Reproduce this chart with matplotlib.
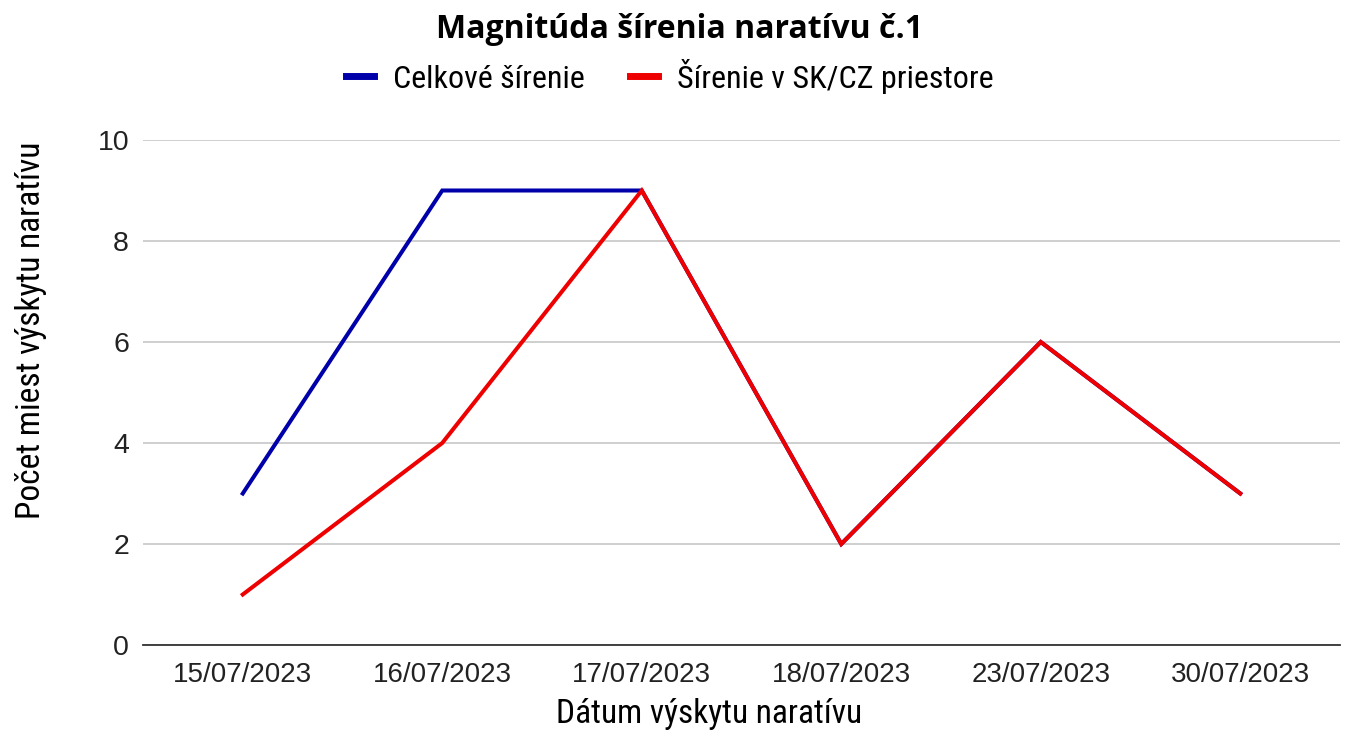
import matplotlib
matplotlib.use("Agg")
import matplotlib.pyplot as plt
from matplotlib.lines import Line2D

DATES = ["15/07/2023", "16/07/2023", "17/07/2023", "18/07/2023", "23/07/2023", "30/07/2023"]
TOTAL = [3, 9, 9, 2, 6, 3]
SKCZ = [1, 4, 9, 2, 6, 3]
SERIES_NAMES = ["Celkové šírenie", "Šírenie v SK/CZ priestore"]
Y_TICKS = [0, 2, 4, 6, 8, 10]

BLUE = "#0000AA"
RED = "#EE0000"
LABEL_FONT = ["Roboto Condensed", "Roboto", "DejaVu Sans"]
TICK_FONT = ["Liberation Sans", "DejaVu Sans"]
W, H = 1346, 731

fig = plt.figure(figsize=(W / 100, H / 100), dpi=100)
ax = fig.add_axes([143 / W, 1 - 645 / H, (1340 - 143) / W, (645 - 140) / H])

x = list(range(len(DATES)))
ax.plot(x, TOTAL, color=BLUE, lw=2.9, solid_joinstyle="miter", zorder=3)
ax.plot(x, SKCZ, color=RED, lw=2.9, solid_joinstyle="miter", zorder=4)

ax.set_xlim(-0.5, len(DATES) - 0.5)
ax.set_ylim(0, 10)
ax.set_yticks(Y_TICKS)
ax.set_yticklabels([str(v) for v in Y_TICKS], fontfamily=TICK_FONT, fontsize=20.5)
ax.set_xticks(x)
ax.set_xticklabels(DATES, fontfamily=TICK_FONT, fontsize=20)
ax.tick_params(axis="both", length=0, colors="#222222")
ax.tick_params(axis="y", pad=10)
ax.tick_params(axis="x", pad=12)
ax.grid(axis="y", color="#CCCCCC", lw=1.3)
ax.set_axisbelow(True)
for side in ["top", "right", "left"]:
    ax.spines[side].set_visible(False)
ax.spines["bottom"].set_color("#333333")
ax.spines["bottom"].set_linewidth(1.3)

fig.text(31 / W, 1 - 330 / H, "Počet miest výskytu naratívu", rotation=90, ha="center", va="center",
         fontfamily=LABEL_FONT, fontsize=24)
# reference crops this label at the bottom edge; keep it just inside
fig.text(709 / W, 1 / H, "Dátum výskytu naratívu", ha="center", va="bottom",
         fontfamily=LABEL_FONT, fontsize=24)

fig.text(680 / W, 1 - 30 / H, "Magnitúda šírenia naratívu č.1", ha="center", va="center",
         fontfamily=["Open Sans", "DejaVu Sans"], fontweight="bold", fontsize=23)

handles = [Line2D([0], [0], color=BLUE, lw=5), Line2D([0], [0], color=RED, lw=5)]
fig.legend(handles, SERIES_NAMES, loc="center", bbox_to_anchor=(670 / W, 1 - 76 / H), ncol=2,
           frameon=False, prop={"family": LABEL_FONT, "size": 23}, handlelength=0.88,
           columnspacing=1.4, handletextpad=0.6)

fig.savefig("out.png", dpi=100)
